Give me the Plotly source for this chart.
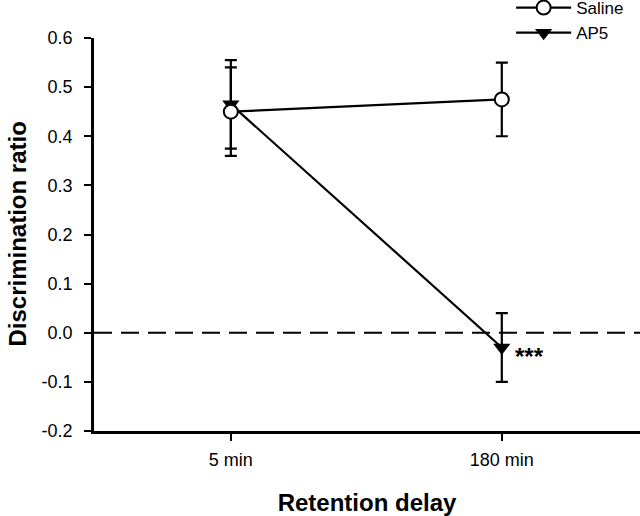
import plotly.graph_objects as go

delays = ["5 min", "180 min"]
saline_mean = [0.45, 0.475]
saline_sem = [0.09, 0.075]
ap5_mean = [0.465, -0.03]
ap5_sem = [0.09, 0.07]
y_ticks = [-0.2, -0.1, 0.0, 0.1, 0.2, 0.3, 0.4, 0.5, 0.6]
x_pos = [0, 1]

FONT = "Liberation Sans, Arial, sans-serif"

fig = go.Figure()

# dashed zero line across the whole plot
fig.add_shape(type="line", xref="paper", yref="y", x0=0, x1=1, y0=0, y1=0,
              line=dict(color="black", width=2.2, dash="18px,9px"), layer="below")

fig.add_trace(go.Scatter(
    x=x_pos, y=ap5_mean, name="AP5", mode="lines+markers",
    line=dict(color="black", width=2.2),
    marker=dict(symbol="triangle-down", size=15, color="black"),
    error_y=dict(type="data", array=ap5_sem, color="black", thickness=2.2, width=6),
))
fig.add_trace(go.Scatter(
    x=x_pos, y=saline_mean, name="Saline", mode="lines+markers",
    line=dict(color="black", width=2.2),
    marker=dict(symbol="circle", size=14, color="white",
                line=dict(color="black", width=2)),
    error_y=dict(type="data", array=saline_sem, color="black", thickness=2.2, width=6),
))

fig.add_annotation(x=x_pos[1], y=ap5_mean[1], text="<b>***</b>", showarrow=False,
                   xanchor="left", yanchor="middle", xshift=11, yshift=-9,
                   font=dict(family=FONT, size=24, color="black"))

# y title as an annotation so it can sit closer to the left edge
fig.add_annotation(x=-0.141, y=0.5, xref="paper", yref="paper", textangle=-90,
                   text="<b>Discrimination ratio</b>", showarrow=False,
                   xanchor="center", yanchor="middle",
                   font=dict(family=FONT, size=24, color="black"))

fig.update_layout(
    width=640, height=516,
    margin=dict(l=94, r=0, t=38, b=85, autoexpand=False),
    plot_bgcolor="white", paper_bgcolor="white",
    font=dict(family=FONT, size=18, color="black"),
    legend=dict(x=0.764, y=1.122, xanchor="left", yanchor="top",
                traceorder="reversed", font=dict(size=17),
                bgcolor="rgba(0,0,0,0)", itemwidth=55, tracegroupgap=0),
    xaxis=dict(
        range=[-0.505, 1.51], tickvals=x_pos, ticktext=delays,
        showline=True, linecolor="black", linewidth=2.5,
        ticks="outside", ticklen=7, tickwidth=2, tickcolor="black",
        showgrid=False, zeroline=False, ticklabelstandoff=4, automargin=False,
        title=dict(text="<b>Retention delay</b>", font=dict(size=24), standoff=28),
        tickfont=dict(size=18),
    ),
    yaxis=dict(
        range=[-0.2, 0.6], tickvals=y_ticks,
        ticktext=[f"{v:.1f}" for v in y_ticks],
        showline=True, linecolor="black", linewidth=2.5,
        ticks="outside", ticklen=7, tickwidth=2, tickcolor="black",
        showgrid=False, zeroline=False, ticklabelstandoff=8, automargin=False,
        tickfont=dict(size=18),
    ),
)

# drop the default 8px body margin so the figure fills the window
fig.write_html("out.html", config={"displayModeBar": False},
               post_script="document.body.style.margin='0';")
